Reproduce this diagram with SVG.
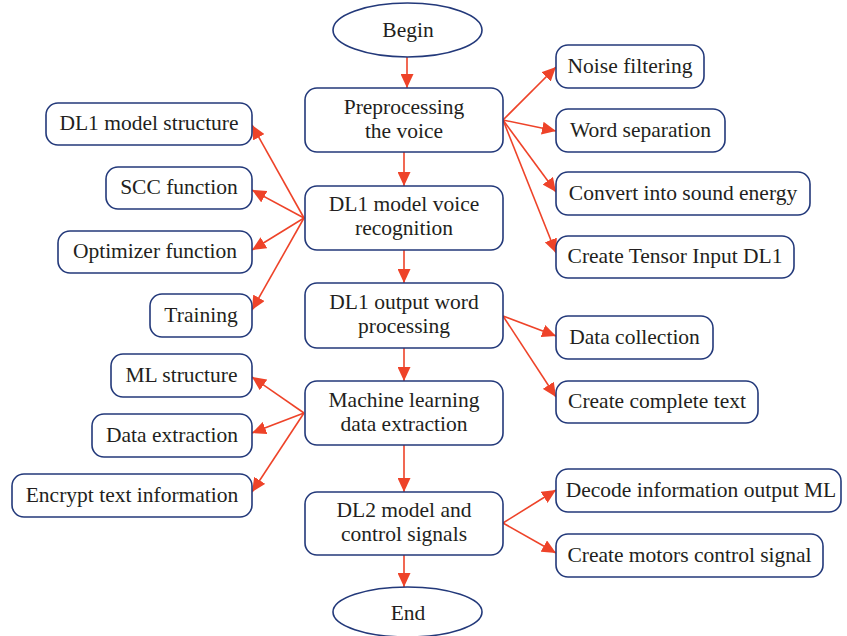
<svg xmlns="http://www.w3.org/2000/svg" width="847" height="636" viewBox="0 0 847 636">
<defs>
<style>
.n{fill:#fff;stroke:#23397a;stroke-width:1.6}
.t{font-family:"Liberation Serif","Times New Roman",serif;font-size:21.5px;fill:#231f20;text-anchor:middle}
.c line{stroke:#ee4329;stroke-width:1.6;marker-end:url(#ah)}
</style>
<marker id="ah" markerUnits="userSpaceOnUse" markerWidth="14" markerHeight="13" refX="14" refY="6.5" orient="auto">
<path d="M0,0 L14,6.5 L0,13 z" fill="#ee4329"/>
</marker>
</defs>
<rect width="847" height="636" fill="#fff"/>
<g class="c" id="connectors">
<line x1="407" y1="57" x2="407" y2="88"/>
<line x1="404" y1="152" x2="404" y2="186"/>
<line x1="404" y1="250" x2="404" y2="283"/>
<line x1="404" y1="348" x2="404" y2="381"/>
<line x1="404" y1="445" x2="404" y2="492"/>
<line x1="404" y1="555" x2="404" y2="587"/>
<line x1="503" y1="120" x2="556" y2="67"/>
<line x1="503" y1="120" x2="556" y2="131"/>
<line x1="503" y1="120" x2="556" y2="192"/>
<line x1="503" y1="120" x2="556" y2="253"/>
<line x1="304" y1="218" x2="252" y2="125"/>
<line x1="304" y1="218" x2="252" y2="190"/>
<line x1="304" y1="218" x2="252" y2="250"/>
<line x1="304" y1="218" x2="252" y2="310"/>
<line x1="503" y1="316" x2="556" y2="336"/>
<line x1="503" y1="316" x2="556" y2="397"/>
<line x1="304" y1="413" x2="252" y2="377"/>
<line x1="304" y1="413" x2="252" y2="433"/>
<line x1="304" y1="413" x2="252" y2="492"/>
<line x1="503" y1="523" x2="556" y2="490"/>
<line x1="503" y1="523" x2="556" y2="553"/>
</g>
<g id="begin"><ellipse class="n" cx="407.5" cy="30" rx="74.5" ry="27"/><text class="t" x="408" y="37">Begin</text></g>
<g id="preprocessing"><rect class="n" x="305" y="88" width="198" height="64" rx="12"/><text class="t" x="404" y="114">Preprocessing</text><text class="t" x="404" y="138">the voice</text></g>
<g id="dl1recog"><rect class="n" x="305" y="186" width="198" height="64" rx="12"/><text class="t" x="404" y="211">DL1 model voice</text><text class="t" x="404" y="235">recognition</text></g>
<g id="dl1out"><rect class="n" x="305" y="283" width="198" height="65" rx="12"/><text class="t" x="404" y="309">DL1 output word</text><text class="t" x="404" y="333">processing</text></g>
<g id="ml"><rect class="n" x="305" y="381" width="198" height="64" rx="12"/><text class="t" x="404" y="407">Machine learning</text><text class="t" x="404" y="431">data extraction</text></g>
<g id="dl2"><rect class="n" x="305" y="492" width="198" height="63" rx="12"/><text class="t" x="404" y="517">DL2 model and</text><text class="t" x="404" y="541">control signals</text></g>
<g id="end"><ellipse class="n" cx="407.5" cy="612" rx="74.5" ry="25"/><text class="t" x="408" y="620">End</text></g>
<g id="noise"><rect class="n" x="556" y="45" width="148" height="43" rx="12"/><text class="t" x="630" y="73">Noise filtering</text></g>
<g id="wordsep"><rect class="n" x="556" y="109" width="169" height="43" rx="12"/><text class="t" x="640.5" y="137">Word separation</text></g>
<g id="convert"><rect class="n" x="556" y="172" width="254" height="43" rx="12"/><text class="t" x="683" y="200">Convert into sound energy</text></g>
<g id="tensor"><rect class="n" x="556" y="236" width="238" height="42" rx="12"/><text class="t" x="675" y="263">Create Tensor Input DL1</text></g>
<g id="dl1struct"><rect class="n" x="46" y="103" width="206" height="42" rx="12"/><text class="t" x="149" y="130">DL1 model structure</text></g>
<g id="scc"><rect class="n" x="106" y="167" width="146" height="42" rx="12"/><text class="t" x="179" y="194">SCC function</text></g>
<g id="optim"><rect class="n" x="58" y="231" width="194" height="42" rx="12"/><text class="t" x="155" y="258">Optimizer function</text></g>
<g id="training"><rect class="n" x="150" y="294" width="102" height="43" rx="12"/><text class="t" x="201" y="322">Training</text></g>
<g id="datacoll"><rect class="n" x="556" y="316" width="157" height="43" rx="12"/><text class="t" x="634.5" y="344">Data collection</text></g>
<g id="complete"><rect class="n" x="556" y="381" width="202" height="42" rx="12"/><text class="t" x="657" y="408">Create complete text</text></g>
<g id="mlstruct"><rect class="n" x="111" y="354" width="141" height="43" rx="12"/><text class="t" x="181.5" y="382">ML structure</text></g>
<g id="dataext"><rect class="n" x="92" y="414" width="160" height="43" rx="12"/><text class="t" x="172" y="442">Data extraction</text></g>
<g id="encrypt"><rect class="n" x="12" y="474" width="240" height="43" rx="12"/><text class="t" x="132" y="502">Encrypt text information</text></g>
<g id="decode"><rect class="n" x="556" y="469" width="285" height="43" rx="12"/><text class="t" x="701" y="497">Decode information output ML</text></g>
<g id="motors"><rect class="n" x="556" y="534" width="267" height="43" rx="12"/><text class="t" x="689.5" y="562">Create motors control signal</text></g>
</svg>
